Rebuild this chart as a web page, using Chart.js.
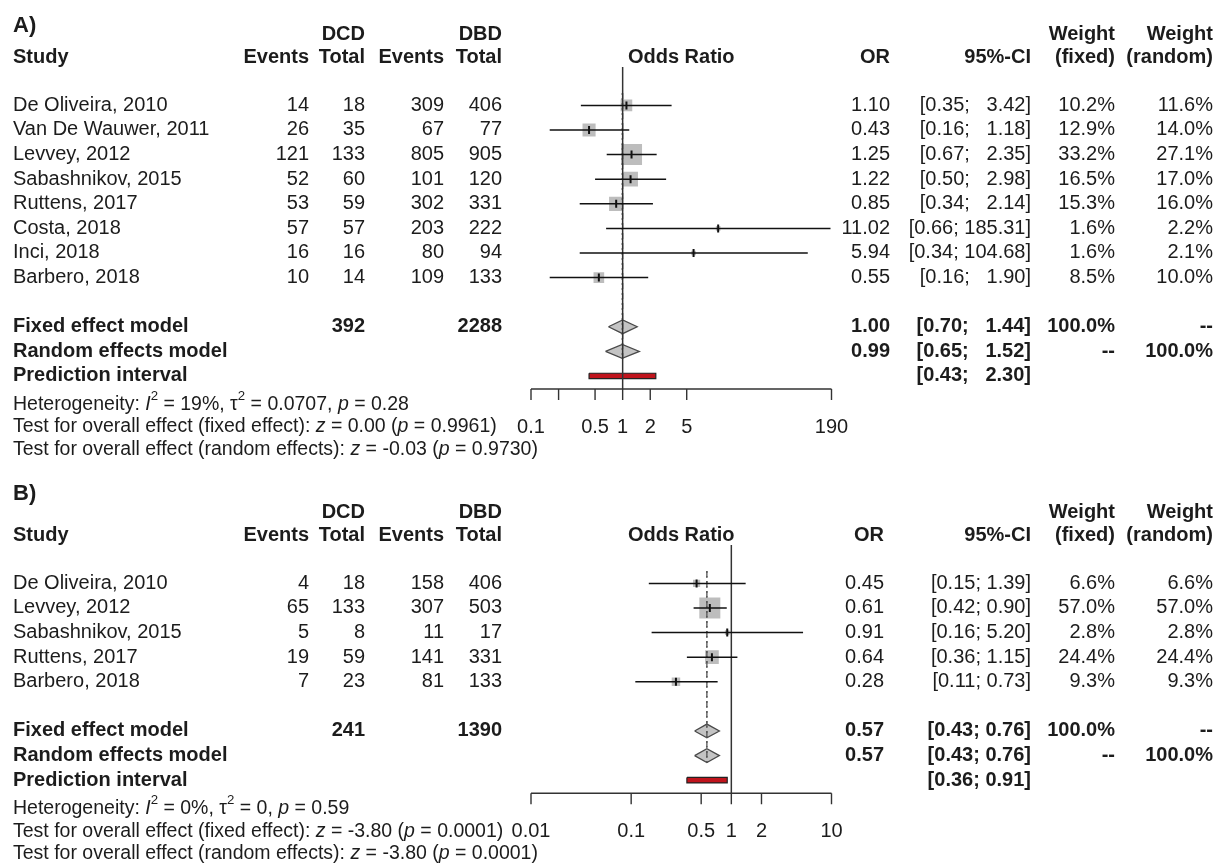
<!DOCTYPE html>
<html>
<head>
<meta charset="utf-8">
<script src="https://cdn.jsdelivr.net/npm/chart.js@4.4.1/dist/chart.umd.min.js"></script>
<style>
  body { margin: 0; background: #fff; width: 1218px; height: 863px; position: relative; overflow: hidden; }
  canvas { position: absolute; left: 0; }
</style>
</head>
<body>
<canvas id="chartA" width="1218" height="478" style="top:0"></canvas>
<canvas id="chartB" width="1218" height="385" style="top:478px"></canvas>
<script>
// ---- A) ----
const studiesA = ['De Oliveira, 2010', 'Van De Wauwer, 2011', 'Levvey, 2012', 'Sabashnikov, 2015',
                  'Ruttens, 2017', 'Costa, 2018', 'Inci, 2018', 'Barbero, 2018'];
const dcdEventsA = [14, 26, 121, 52, 53, 57, 16, 10];
const dcdTotalA = [18, 35, 133, 60, 59, 57, 16, 14];
const dbdEventsA = [309, 67, 805, 101, 302, 203, 80, 109];
const dbdTotalA = [406, 77, 905, 120, 331, 222, 94, 133];
const orA = [1.10, 0.43, 1.25, 1.22, 0.85, 11.02, 5.94, 0.55];
const lowerA = [0.35, 0.16, 0.67, 0.50, 0.34, 0.66, 0.34, 0.16];
const upperA = [3.42, 1.18, 2.35, 2.98, 2.14, 185.31, 104.68, 1.90];
const weightFixedA = [10.2, 12.9, 33.2, 16.5, 15.3, 1.6, 1.6, 8.5];
const weightRandomA = [11.6, 14.0, 27.1, 17.0, 16.0, 2.2, 2.1, 10.0];
const fixedA = [1.00, 0.70, 1.44];      // estimate, lower, upper
const randomA = [0.99, 0.65, 1.52];
const predictionA = [0.43, 2.30];
const ticksA = [0.1, 0.2, 0.5, 1, 2, 5, 190];
const tickLabelsA = ['0.1', '', '0.5', '1', '2', '5', '190'];
const heterogeneityA = ['19%', '0.0707', '0.28'];   // I2, tau2, p
const testFixedA = ['0.00', '0.9961'];
const testRandomA = ['-0.03', '0.9730'];

// ---- B) ----
const studiesB = ['De Oliveira, 2010', 'Levvey, 2012', 'Sabashnikov, 2015', 'Ruttens, 2017', 'Barbero, 2018'];
const dcdEventsB = [4, 65, 5, 19, 7];
const dcdTotalB = [18, 133, 8, 59, 23];
const dbdEventsB = [158, 307, 11, 141, 81];
const dbdTotalB = [406, 503, 17, 331, 133];
const orB = [0.45, 0.61, 0.91, 0.64, 0.28];
const lowerB = [0.15, 0.42, 0.16, 0.36, 0.11];
const upperB = [1.39, 0.90, 5.20, 1.15, 0.73];
const weightFixedB = [6.6, 57.0, 2.8, 24.4, 9.3];
const weightRandomB = [6.6, 57.0, 2.8, 24.4, 9.3];
const fixedB = [0.57, 0.43, 0.76];
const randomB = [0.57, 0.43, 0.76];
const predictionB = [0.36, 0.91];
const ticksB = [0.01, 0.1, 0.5, 1, 2, 10];
const tickLabelsB = ['0.01', '0.1', '0.5', '1', '2', '10'];
const heterogeneityB = ['0%', '0', '0.59'];
const testFixedB = ['-3.80', '0.0001'];
const testRandomB = ['-3.80', '0.0001'];

const FONT = '"Liberation Sans", Arial, sans-serif';
const INK = '#1c1c1c';
const ROW = 24.6, TOP = 67, LEFT = 531, RIGHT = 831.5;

function ciLabels(lo, hi) {
  const l = lo.map(v => v.toFixed(2)), h = hi.map(v => v.toFixed(2));
  const wl = Math.max(...l.map(s => s.length)), wh = Math.max(...h.map(s => s.length));
  return l.map((s, i) => '[' + s.padStart(wl) + '; ' + h[i].padStart(wh) + ']');
}

function text(ctx, s, x, y, align, bold, size) {
  ctx.font = (bold ? 'bold ' : '') + (size || 20) + 'px ' + FONT;
  ctx.textAlign = align;
  ctx.fillText(s, x, y);
}

function rich(ctx, parts, x, y, size) {
  ctx.textAlign = 'left';
  parts.forEach(([t, s]) => {
    const fs = s === 'sup' ? size * 0.68 : size;
    ctx.font = (s === 'i' ? 'italic ' : '') + fs + 'px ' + FONT;
    ctx.fillText(t, x, y + (s === 'sup' ? -size * 0.42 : 0));
    x += ctx.measureText(t).width;
  });
}

function forest(id, p) {
  const canvas = document.getElementById(id);
  const n = p.studies.length;
  const rFixed = n + 1, rRandom = n + 2, rPred = n + 3;
  const yMin = -1.56, yMax = rPred + 0.53;
  const axisY = TOP + (yMax - yMin) * ROW;
  const wMax = Math.max(...p.wFixed);
  const line = (data, color, width, order, dash) => ({
    data, showLine: true, borderColor: color, borderWidth: width, borderDash: dash || [],
    pointRadius: 0, order
  });
  const datasets = [];
  // estimate marks
  datasets.push({
    data: p.or.map((v, i) => ({ x: v, y: i })),
    pointStyle: 'line', pointRotation: 90, pointRadius: 4,
    pointBorderWidth: 2, pointBorderColor: '#111', order: 0
  });
  // confidence intervals
  p.or.forEach((v, i) => datasets.push(line([{ x: p.lower[i], y: i }, { x: p.upper[i], y: i }], '#111', 1.5, 1)));
  // reference line and pooled estimates
  datasets.push(line([{ x: 1, y: yMin }, { x: 1, y: yMax }], '#333', 1.5, 2));
  datasets.push(line([{ x: p.fixed[0], y: -0.5 }, { x: p.fixed[0], y: rRandom + 0.3 }], '#555', 1.3, 2, [6, 4]));
  datasets.push(line([{ x: p.random[0], y: -0.5 }, { x: p.random[0], y: rRandom + 0.3 }], '#555', 1.3, 2, [2, 3]));
  // study squares, side ~ sqrt(weight)
  datasets.push({
    data: p.or.map((v, i) => ({ x: v, y: i })),
    pointStyle: 'rect',
    pointRadius: p.wFixed.map(w => 21 * Math.sqrt(w / wMax) / Math.SQRT2),
    pointBackgroundColor: '#bdbdbd', pointBorderColor: '#bdbdbd', pointBorderWidth: 0, order: 3
  });
  // diamonds
  [[p.fixed, rFixed], [p.random, rRandom]].forEach(([e, r]) => {
    const d = line([{ x: e[1], y: r }, { x: e[0], y: r - 0.28 }, { x: e[2], y: r }, { x: e[0], y: r + 0.28 }, { x: e[1], y: r }], '#4a4a4a', 1.3, 3);
    d.fill = 'shape'; d.backgroundColor = '#c4c4c4';
    datasets.push(d);
  });
  // prediction interval
  const pr = line([{ x: p.pred[0], y: rPred - 0.11 }, { x: p.pred[1], y: rPred - 0.11 }, { x: p.pred[1], y: rPred + 0.11 },
                   { x: p.pred[0], y: rPred + 0.11 }, { x: p.pred[0], y: rPred - 0.11 }], '#222', 1.2, 3);
  pr.fill = 'shape'; pr.backgroundColor = '#c0141c';
  datasets.push(pr);

  const ciAll = ciLabels(p.lower.concat([p.fixed[1], p.random[1], p.pred[0]]),
                         p.upper.concat([p.fixed[2], p.random[2], p.pred[1]]));
  const sum = a => a.reduce((s, v) => s + v, 0);

  const tablePlugin = {
    id: 'forestTable',
    afterDraw(chart) {
      const ctx = chart.ctx, xs = chart.scales.x, ys = chart.scales.y, area = chart.chartArea;
      const Y = r => ys.getPixelForValue(r);
      ctx.save();
      ctx.fillStyle = INK;
      ctx.textBaseline = 'middle';
      // headers
      text(ctx, p.label, 13, Y(p.labelRow), 'left', true, 22);
      const h1 = Y(-2.88), h2 = Y(-1.95);
      text(ctx, 'DCD', 365, h1, 'right', true);
      text(ctx, 'DBD', 502, h1, 'right', true);
      text(ctx, 'Weight', 1115, h1, 'right', true);
      text(ctx, 'Weight', 1213, h1, 'right', true);
      text(ctx, 'Study', 13, h2, 'left', true);
      text(ctx, 'Events', 309, h2, 'right', true);
      text(ctx, 'Total', 365, h2, 'right', true);
      text(ctx, 'Events', 444, h2, 'right', true);
      text(ctx, 'Total', 502, h2, 'right', true);
      text(ctx, 'Odds Ratio', (area.left + area.right) / 2, h2, 'center', true);
      text(ctx, 'OR', p.colOR, h2, 'right', true);
      text(ctx, '95%-CI', 1031, h2, 'right', true);
      text(ctx, '(fixed)', 1115, h2, 'right', true);
      text(ctx, '(random)', 1213, h2, 'right', true);
      // studies
      p.studies.forEach((s, i) => {
        const y = Y(i);
        text(ctx, s, 13, y, 'left', false);
        text(ctx, String(p.dcdEv[i]), 309, y, 'right', false);
        text(ctx, String(p.dcdTot[i]), 365, y, 'right', false);
        text(ctx, String(p.dbdEv[i]), 444, y, 'right', false);
        text(ctx, String(p.dbdTot[i]), 502, y, 'right', false);
        text(ctx, p.or[i].toFixed(2), p.colOR, y, 'right', false);
        text(ctx, ciAll[i], 1031, y, 'right', false);
        text(ctx, p.wFixed[i].toFixed(1) + '%', 1115, y, 'right', false);
        text(ctx, p.wRandom[i].toFixed(1) + '%', 1213, y, 'right', false);
      });
      // pooled rows
      let y = Y(rFixed);
      text(ctx, 'Fixed effect model', 13, y, 'left', true);
      text(ctx, String(sum(p.dcdTot)), 365, y, 'right', true);
      text(ctx, String(sum(p.dbdTot)), 502, y, 'right', true);
      text(ctx, p.fixed[0].toFixed(2), p.colOR, y, 'right', true);
      text(ctx, ciAll[n], 1031, y, 'right', true);
      text(ctx, '100.0%', 1115, y, 'right', true);
      text(ctx, '--', 1213, y, 'right', true);
      y = Y(rRandom);
      text(ctx, 'Random effects model', 13, y, 'left', true);
      text(ctx, p.random[0].toFixed(2), p.colOR, y, 'right', true);
      text(ctx, ciAll[n + 1], 1031, y, 'right', true);
      text(ctx, '--', 1115, y, 'right', true);
      text(ctx, '100.0%', 1213, y, 'right', true);
      y = Y(rPred);
      text(ctx, 'Prediction interval', 13, y, 'left', true);
      text(ctx, ciAll[n + 2], 1031, y, 'right', true);
      // axis
      const b = area.bottom;
      ctx.strokeStyle = '#333';
      ctx.lineWidth = 1.4;
      ctx.beginPath();
      ctx.moveTo(xs.getPixelForValue(p.ticks[0]), b);
      ctx.lineTo(xs.getPixelForValue(p.ticks[p.ticks.length - 1]), b);
      p.ticks.forEach(t => {
        const px = xs.getPixelForValue(t);
        ctx.moveTo(px, b);
        ctx.lineTo(px, b + 11);
      });
      ctx.stroke();
      p.ticks.forEach((t, i) => text(ctx, p.tickLabels[i], xs.getPixelForValue(t), b + 38, 'center', false));
      // statistics
      const fs = 19.5;
      rich(ctx, [['Heterogeneity: ', 'n'], ['I', 'i'], ['2', 'sup'], [' = ' + p.het[0] + ', ', 'n'], ['\u03c4', 'n'], ['2', 'sup'],
                 [' = ' + p.het[1] + ', ', 'n'], ['p', 'i'], [' = ' + p.het[2], 'n']], 13, b + 15.5, fs);
      rich(ctx, [['Test for overall effect (fixed effect): ', 'n'], ['z', 'i'], [' = ' + p.tFixed[0] + ' (', 'n'], ['p', 'i'],
                 [' = ' + p.tFixed[1] + ')', 'n']], 13, b + 38, fs);
      rich(ctx, [['Test for overall effect (random effects): ', 'n'], ['z', 'i'], [' = ' + p.tRandom[0] + ' (', 'n'], ['p', 'i'],
                 [' = ' + p.tRandom[1] + ')', 'n']], 13, b + 60.5, fs);
      ctx.restore();
    }
  };

  return new Chart(canvas, {
    type: 'scatter',
    data: { datasets },
    options: {
      responsive: false,
      animation: false,
      devicePixelRatio: 1,
      events: [],
      layout: { padding: { left: LEFT, right: canvas.width - RIGHT, top: TOP, bottom: canvas.height - axisY } },
      scales: {
        x: { type: 'logarithmic', min: p.ticks[0], max: p.ticks[p.ticks.length - 1], display: false },
        y: { type: 'linear', reverse: true, min: yMin, max: yMax, display: false }
      },
      plugins: { legend: { display: false }, tooltip: { enabled: false } }
    },
    plugins: [tablePlugin]
  });
}

forest('chartA', {
  label: 'A)', labelRow: -3.24, colOR: 890,
  studies: studiesA, dcdEv: dcdEventsA, dcdTot: dcdTotalA, dbdEv: dbdEventsA, dbdTot: dbdTotalA,
  or: orA, lower: lowerA, upper: upperA, wFixed: weightFixedA, wRandom: weightRandomA,
  fixed: fixedA, random: randomA, pred: predictionA, ticks: ticksA, tickLabels: tickLabelsA,
  het: heterogeneityA, tFixed: testFixedA, tRandom: testRandomA
});
forest('chartB', {
  label: 'B)', labelRow: -3.65, colOR: 884,
  studies: studiesB, dcdEv: dcdEventsB, dcdTot: dcdTotalB, dbdEv: dbdEventsB, dbdTot: dbdTotalB,
  or: orB, lower: lowerB, upper: upperB, wFixed: weightFixedB, wRandom: weightRandomB,
  fixed: fixedB, random: randomB, pred: predictionB, ticks: ticksB, tickLabels: tickLabelsB,
  het: heterogeneityB, tFixed: testFixedB, tRandom: testRandomB
});
</script>
</body>
</html>
